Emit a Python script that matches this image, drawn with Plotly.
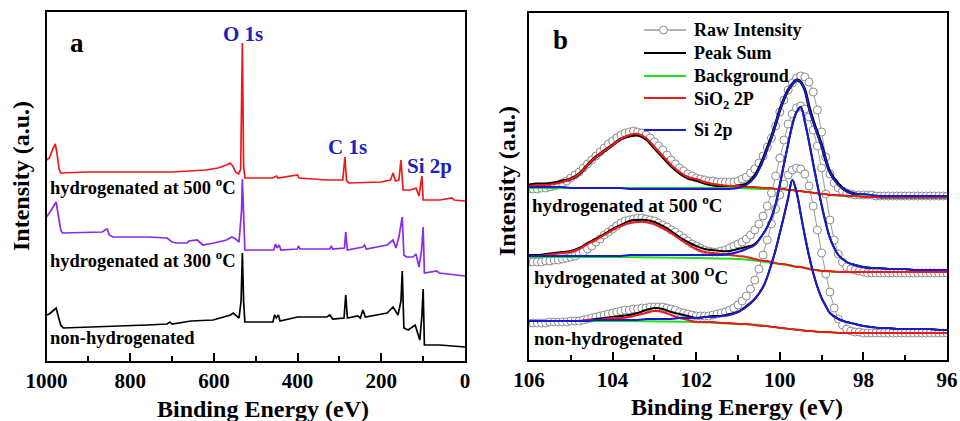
import plotly.graph_objects as go

# ---------------- Panel (a): XPS survey spectra ----------------
survey_500_ev = [1000, 993, 985, 979, 975, 970, 966, 900, 800, 700, 620, 590, 570, 561, 555, 548, 541, 536, 532, 529,
                 526, 460, 450, 447, 400, 397, 330, 292, 287, 283, 277, 200, 178, 172, 166, 158, 153, 148, 130, 117,
                 110, 103, 100, 60, 31, 26, 0]
survey_500_int = [201, 203, 212, 217, 208, 192, 188, 189, 189, 189, 191, 193, 196, 198, 195, 189, 187, 192, 318, 195,
                  183, 183, 185, 183, 186, 183, 181, 181, 204, 180, 178, 179, 181, 188, 180, 181, 201, 171, 171, 173,
                  165, 185, 161, 161, 163, 161, 160]

survey_300_ev = [1000, 996, 990, 977, 972, 966, 962, 900, 867, 860, 855, 850, 841, 760, 712, 700, 690, 664, 660, 640,
                 632, 626, 600, 570, 557, 548, 540, 534, 532, 529, 526, 457, 453, 449, 444, 440, 401, 398, 394, 323,
                 320, 316, 288, 285, 281, 244, 240, 236, 186, 172, 165, 158, 150, 146, 140, 124, 117, 110, 104, 100,
                 97, 67, 62, 0]
survey_300_int = [144, 146, 150, 159, 145, 131, 128, 129, 129, 131, 132, 126, 124, 124, 123, 119, 118, 118, 120, 121,
                  118, 116, 118, 121, 124, 122, 119, 150, 182, 150, 111, 111, 117, 113, 116, 111, 112, 115, 112, 112,
                  115, 112, 113, 129, 111, 114, 116, 112, 116, 121, 113, 124, 144, 106, 104, 104, 107, 94, 110, 134,
                  88, 90, 88, 85]

survey_nh_ev = [1000, 993, 985, 977, 972, 966, 960, 872, 760, 712, 705, 700, 664, 655, 602, 560, 554, 545, 540, 535,
                532, 529, 526, 459, 455, 451, 446, 442, 400, 330, 323, 316, 289, 285, 281, 256, 250, 244, 238, 186,
                172, 160, 153, 150, 146, 136, 119, 108, 103, 100, 97, 60, 30, 0]
survey_nh_int = [46, 47, 50, 53, 45, 36, 33, 34, 36, 37, 39, 37, 39, 40, 41, 46, 48, 45, 43, 60,
                 108, 60, 39, 39, 46, 43, 46, 40, 44, 44, 46, 42, 43, 66, 43, 45, 43, 51, 44, 48,
                 54, 46, 60, 90, 33, 31, 36, 21, 45, 72, 16, 16, 15, 14]

survey_ticks = [1000, 800, 600, 400, 200, 0]
survey_minor = [900, 700, 500, 300, 100]

# ---------------- Panel (b): Si 2p high-resolution spectra ----------------
raw_ev = [round(106.0 - 0.1 * i, 1) for i in range(101)]

raw_500 = [171, 171, 171, 172, 172, 173, 174, 175, 177, 179,
           182, 185, 188, 192, 196, 200, 204, 208, 212, 216,
           219, 222, 225, 227, 228, 229, 228, 227, 225, 222,
           218, 214, 210, 205, 200, 196, 192, 189, 186, 184,
           182, 181, 180, 179, 179, 178, 178, 178, 178, 178,
           179, 181, 183, 187, 191, 197, 204, 213, 222, 234,
           248, 260, 270, 277, 282, 284, 283, 278, 268, 250,
           228, 203, 186, 177, 172, 169, 167, 166, 165, 165,
           165, 165, 165, 164, 164, 164, 164, 164, 164, 164,
           164, 164, 164, 164, 164, 164, 164, 164, 164, 164, 164]

raw_300 = [98, 98, 98, 98, 99, 99, 100, 100, 101, 102,
           103, 104, 106, 108, 111, 114, 118, 121, 125, 128,
           131, 134, 137, 139, 140, 141, 142, 142, 141, 140,
           139, 137, 135, 133, 130, 128, 125, 122, 119, 116,
           114, 112, 110, 109, 108, 108, 109, 110, 112, 114,
           116, 118, 121, 125, 130, 136, 144, 154, 167, 184,
           202, 220, 236, 246, 252, 254, 251, 243, 230, 214,
           192, 166, 140, 120, 106, 98, 93, 91, 90, 89,
           88, 87, 87, 87, 87, 87, 87, 87, 87, 87,
           87, 87, 87, 87, 87, 87, 87, 87, 87, 87, 87]

raw_nh = [37, 37, 37, 37, 37, 38, 38, 38, 38, 38,
          39, 39, 39, 40, 41, 42, 43, 44, 45, 46,
          47, 48, 49, 50, 50, 51, 51, 52, 52, 53,
          53, 53, 53, 52, 51, 50, 48, 47, 46, 45,
          44, 44, 44, 44, 45, 46, 47, 48, 50, 52,
          55, 59, 64, 71, 80, 91, 105, 120, 136, 151,
          165, 176, 185, 190, 192, 191, 186, 174, 154, 130,
          107, 86, 68, 52, 41, 35, 31, 29, 28, 28,
          27, 27, 27, 27, 27, 27, 27, 27, 27, 27,
          27, 27, 27, 27, 27, 27, 27, 27, 27, 27, 27]

fit_ev = [106.0, 105.8, 105.6, 105.4, 105.2, 105.0, 104.8, 104.6, 104.4, 104.2,
          104.0, 103.8, 103.6, 103.4, 103.2, 103.0, 102.8, 102.6, 102.4, 102.2,
          102.0, 101.8, 101.6, 101.4, 101.2, 101.0, 100.8, 100.6,
          100.4, 100.3, 100.2, 100.1, 100.0, 99.9, 99.8, 99.7, 99.6, 99.5,
          99.4, 99.3, 99.2, 99.1, 99.0, 98.9, 98.8,
          98.6, 98.4, 98.2, 98.0, 97.8, 97.6, 97.4, 97.2, 97.0, 96.8, 96.6, 96.4, 96.2, 96.0]

sio2_500 = [174, 175, 175, 176, 178, 181, 186, 195, 203, 209,
            215, 221, 225, 226, 222, 213, 204, 195, 188, 183,
            181, 178, 176, 175, 174, 174, 173, 173,
            172, 172, 172, 171, 171, 171, 170, 170, 169, 169,
            168, 168, 167, 167, 166, 166, 165,
            165, 164, 164, 163, 163, 163, 163, 163, 163, 163, 163, 163, 163, 163]
si_500 = [173, 173, 173, 173, 173, 172, 172, 172, 172, 172,
          172, 172, 171, 171, 171, 171, 171, 171, 171, 171,
          171, 171, 171, 171, 171, 172, 175, 183,
          200, 211, 222, 236, 250, 261, 270, 276, 280, 278,
          270, 252, 238, 226, 214, 200, 188,
          175, 169, 166, 166, 165, 164, 164, 164, 164, 164, 164, 164, 164, 164]
sum_500 = [175, 176, 176, 177, 179, 181, 186, 195, 203, 209,
           215, 221, 224, 225, 221, 212, 203, 194, 187, 182,
           180, 177, 175, 174, 173, 174, 176, 184,
           201, 212, 223, 236, 250, 261, 270, 276, 280, 278,
           270, 253, 239, 227, 215, 200, 188,
           176, 169, 166, 165, 164, 163, 163, 163, 163, 163, 163, 163, 163, 163]

sio2_300 = [104, 104, 105, 106, 107, 108, 111, 116, 120, 125,
            130, 134, 137, 138, 138, 136, 132, 127, 121, 116,
            111, 108, 107, 106, 105, 104, 103, 101,
            99, 99, 98, 97, 96, 96, 95, 94, 93, 93,
            92, 91, 90, 90, 89, 89, 89,
            88, 88, 88, 88, 88, 88, 88, 88, 88, 88, 88, 88, 88, 88]
si_300 = [104, 104, 104, 104, 104, 104, 104, 104, 104, 104,
          104, 104, 105, 105, 105, 105, 105, 105, 105, 105,
          105, 105, 105, 105, 106, 108, 111, 115,
          126, 133, 142, 156, 175, 196, 216, 235, 248, 253,
          238, 218, 196, 175, 155, 137, 122,
          105, 98, 95, 93, 92, 92, 91, 91, 91, 90, 90, 90, 90, 90]
sum_300 = [105, 105, 106, 107, 108, 109, 112, 117, 121, 126,
           131, 135, 139, 140, 140, 138, 134, 129, 123, 118,
           114, 111, 110, 109, 109, 111, 113, 116,
           126, 133, 143, 156, 175, 196, 216, 235, 248, 253,
           238, 218, 196, 175, 155, 137, 122,
           105, 98, 95, 93, 92, 92, 91, 91, 91, 90, 90, 90, 90, 90]

sio2_nh = [39, 39, 39, 39, 39, 39, 39, 40, 40, 41,
           42, 42, 43, 45, 47, 49, 48, 45, 42, 40,
           38, 38, 38, 37, 37, 36, 36, 35,
           34, 34, 33, 33, 32, 32, 31, 31, 30, 30,
           29, 29, 29, 28, 28, 28, 28,
           27, 27, 27, 27, 27, 27, 27, 27, 27, 27, 27, 27, 27, 27]
si_nh = [39, 39, 39, 39, 39, 39, 39, 39, 40, 40,
         40, 40, 40, 40, 41, 41, 41, 41, 42, 42,
         42, 43, 43, 44, 45, 48, 53, 61,
         73, 83, 96, 110, 127, 144, 162, 180, 168, 146,
         124, 104, 87, 73, 62, 54, 47,
         41, 38, 36, 34, 33, 32, 32, 31, 31, 31, 31, 31, 30, 30]
sum_nh = [39, 39, 39, 39, 39, 39, 39, 40, 41, 42,
          43, 44, 45, 47, 50, 52, 51, 48, 46, 44,
          42, 43, 44, 44, 46, 48, 54, 61,
          73, 83, 96, 110, 127, 144, 162, 180, 168, 146,
          124, 104, 87, 73, 62, 54, 47,
          41, 38, 36, 34, 33, 32, 32, 31, 31, 31, 31, 31, 30, 30]

bg_ev = [106, 104, 102, 101, 100.5, 100, 99.5, 99, 98.5, 98, 97, 96]
bg_500 = [172, 172, 172, 172, 171, 171, 169, 166, 164, 164, 164, 164]
bg_300 = [103, 103, 102, 101, 99, 96, 93, 89, 88, 88, 88, 88]
bg_nh = [39, 39, 38, 36, 35, 32, 30, 28, 27, 27, 27, 27]

hr_ticks = [106, 104, 102, 100, 98, 96]
hr_minor = [105, 103, 101, 99, 97]
legend_names = ["Raw Intensity", "Peak Sum", "Background", "SiO<sub>2</sub> 2P", "Si 2p"]

# ---------------- styling ----------------
W, H = 960, 421
SERIF = "Liberation Serif"
RED = "#f01818"
PURPLE = "#8a2be8"
BLUE = "#1a1ad0"
GREEN = "#19e019"
GREY = "#8c8c8c"
LBLUE = "#2020c0"
LAB_A = 18.5  # sample label font size, panel a
LAB_B = 19    # sample label font size, panel b
LEG = 18      # legend font size
legend_colors = ["#9a9a9a", "black", GREEN, RED, BLUE]


def fx(p):
    return p / W


def fy(p):
    return 1 - p / H


fig = go.Figure()

# panel a
for ev, inten, col in [(survey_nh_ev, survey_nh_int, "black"),
                       (survey_300_ev, survey_300_int, PURPLE),
                       (survey_500_ev, survey_500_int, RED)]:
    fig.add_trace(go.Scatter(x=ev, y=inten, mode="lines", line=dict(color=col, width=1.7),
                             xaxis="x", yaxis="y", showlegend=False, hoverinfo="skip"))

# panel b: raw data first
for r in [raw_500, raw_300, raw_nh]:
    fig.add_trace(go.Scatter(x=raw_ev, y=r, mode="lines+markers", name="Raw Intensity",
                             line=dict(color="#9a9a9a", width=1),
                             marker=dict(symbol="circle", size=8, color="white",
                                         line=dict(color=GREY, width=1)),
                             xaxis="x2", yaxis="y2", showlegend=False))

fits = [(sum_500, bg_500, sio2_500, si_500, 3.0),
        (sum_300, bg_300, sio2_300, si_300, 2.0),
        (sum_nh, bg_nh, sio2_nh, si_nh, 2.0)]
for s, b, o, si, sw in fits:
    fig.add_trace(go.Scatter(x=fit_ev, y=s, mode="lines", name="Peak Sum",
                             line=dict(color="black", width=sw, shape="spline"),
                             xaxis="x2", yaxis="y2", showlegend=False))
    fig.add_trace(go.Scatter(x=bg_ev, y=b, mode="lines", name="Background",
                             line=dict(color=GREEN, width=2, shape="spline"),
                             xaxis="x2", yaxis="y2", showlegend=False))
    fig.add_trace(go.Scatter(x=fit_ev, y=o, mode="lines", name="SiO2 2P",
                             line=dict(color=RED, width=2, shape="spline"),
                             xaxis="x2", yaxis="y2", showlegend=False))
    fig.add_trace(go.Scatter(x=fit_ev, y=si, mode="lines", name="Si 2p",
                             line=dict(color=BLUE, width=2, shape="spline"),
                             xaxis="x2", yaxis="y2", showlegend=False))

# empty traces so the minor-tick overlay axes are instantiated
fig.add_trace(go.Scatter(x=[], y=[], xaxis="x3", yaxis="y", showlegend=False, hoverinfo="skip"))
fig.add_trace(go.Scatter(x=[], y=[], xaxis="x4", yaxis="y2", showlegend=False, hoverinfo="skip"))

tickfont = dict(family=SERIF, size=21, color="black", weight="bold")
axis_common = dict(showline=True, linecolor="black", linewidth=2, mirror=True, showgrid=False,
                   zeroline=False, automargin=False)
minor_common = dict(showline=False, showgrid=False, zeroline=False, automargin=False,
                    showticklabels=False, ticks="inside", ticklen=5, tickwidth=2, tickcolor="black",
                    side="bottom", tickmode="array")

fig.update_layout(
    width=W, height=H, margin=dict(l=0, r=0, t=0, b=0, autoexpand=False),
    paper_bgcolor="white", plot_bgcolor="white",
    font=dict(family=SERIF, size=18, color="black"),
    showlegend=False,
    xaxis=dict(domain=[fx(46.5), fx(465)], range=[1000, 0], anchor="y",
               tickvals=survey_ticks, ticks="inside", ticklen=8, tickwidth=2, tickcolor="black",
               tickfont=tickfont, **axis_common),
    xaxis3=dict(overlaying="x", anchor="y", range=[1000, 0], tickvals=survey_minor, **minor_common),
    yaxis=dict(domain=[fy(361), fy(12)], range=[0, 349], anchor="x",
               showticklabels=False, ticks="", **axis_common),
    xaxis2=dict(domain=[fx(529), fx(947)], range=[106, 96], anchor="y2",
                tickvals=hr_ticks, ticks="inside", ticklen=8, tickwidth=2, tickcolor="black",
                tickfont=tickfont, **axis_common),
    xaxis4=dict(overlaying="x2", anchor="y2", range=[106, 96], tickvals=hr_minor, **minor_common),
    yaxis2=dict(domain=[fy(360), fy(13)], range=[0, 347], anchor="x2",
                showticklabels=False, ticks="", **axis_common),
)

ann = []
shapes = []


def add_text(text, x, y, size, color="black", xanchor="center", angle=0):
    ann.append(dict(text=text, x=fx(x), y=fy(y), xref="paper", yref="paper", showarrow=False,
                    xanchor=xanchor, yanchor="middle", textangle=angle,
                    font=dict(family=SERIF, size=size, color=color, weight="bold")))


# axis titles
add_text("Binding Energy (eV)", 263, 409, 24)
add_text("Binding Energy (eV)", 737, 407, 24)
add_text("Intensity (a.u.)", 21, 176, 24, angle=-90)
add_text("Intensity (a.u.)", 507, 181, 24, angle=-90)
# panel letters
add_text("a", 77, 43, 27)
add_text("b", 560, 40, 27)
# peak labels
add_text("O 1s", 243, 34, 21, LBLUE)
add_text("C 1s", 347, 147, 21, LBLUE)
add_text("Si 2p", 429, 166, 21, LBLUE)
# sample labels panel a
add_text("hydrogenated at 500 <sup>o</sup>C", 48, 186, LAB_A, xanchor="left")
add_text("hydrogenated at 300 <sup>o</sup>C", 48, 259, LAB_A, xanchor="left")
add_text("non-hydrogenated", 48, 338, LAB_A, xanchor="left")
# sample labels panel b
add_text("hydrogenated at 500 <sup>o</sup>C", 530, 204, LAB_B, xanchor="left")
add_text("hydrogenated at 300 <sup>O</sup>C", 532, 276, LAB_B, xanchor="left")
add_text("non-hydrogenated", 532, 338, LAB_B, xanchor="left")

# legend of panel b (line samples + labels)
legend_rows = [30, 53, 76, 98, 130]
for i, (name, col, ry) in enumerate(zip(legend_names, legend_colors, legend_rows)):
    shapes.append(dict(type="line", xref="paper", yref="paper", x0=fx(644), x1=fx(686), y0=fy(ry), y1=fy(ry),
                       line=dict(color=col, width=1.5 if i == 0 else 2)))
    add_text(name, 692, ry + (2 if i == 3 else 0), LEG, xanchor="left")
shapes.append(dict(type="circle", xref="paper", yref="paper", x0=fx(659.5), x1=fx(667.5),
                   y0=fy(26), y1=fy(34), fillcolor="white", line=dict(color=GREY, width=1)))

fig.update_layout(annotations=ann, shapes=shapes)

fig.write_html("out.html")
